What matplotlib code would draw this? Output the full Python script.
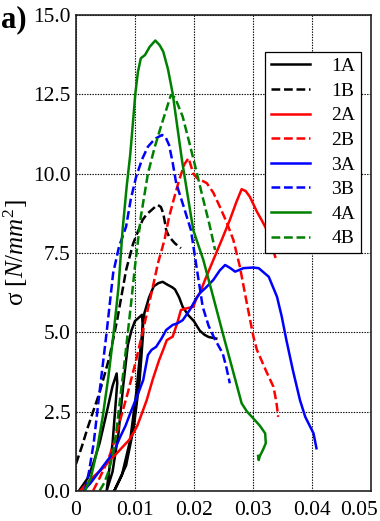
import matplotlib
matplotlib.use("Agg")
import matplotlib.pyplot as plt
from matplotlib.transforms import ScaledTranslation

plt.rcParams['font.family'] = ['Liberation Serif', 'DejaVu Serif']
plt.rcParams['mathtext.fontset'] = 'custom'
plt.rcParams['mathtext.it'] = 'Liberation Serif:italic'
plt.rcParams['mathtext.rm'] = 'Liberation Serif'

# ---- data (strain, stress N/mm^2) ----
x_1A = [0.0005, 0.002, 0.003, 0.004, 0.005, 0.0062, 0.0069, 0.0070, 0.0062, 0.0052,
        0.0062, 0.0072, 0.0080, 0.0088, 0.0094, 0.0100, 0.0106, 0.0112, 0.0114, 0.0108, 0.0098, 0.0085, 0.0065,
        0.0078, 0.0092, 0.0103, 0.0110, 0.0116, 0.0124, 0.0132, 0.0140, 0.0147, 0.0155, 0.0163, 0.0168, 0.0175,
        0.0181, 0.0190, 0.0200, 0.0210, 0.0218, 0.0225, 0.0238]
y_1A = [0.0, 0.4, 0.9, 1.5, 2.3, 3.3, 3.7, 3.4, 1.5, 0.0,
        0.6, 1.8, 3.3, 4.6, 5.05, 5.35, 5.45, 5.55, 5.0, 3.5, 2.0, 0.8, 0.0,
        0.5, 1.6, 3.2, 4.6, 5.6, 6.1, 6.45, 6.55, 6.59, 6.5, 6.42, 6.35, 6.1,
        5.8, 5.55, 5.35, 5.05, 4.92, 4.85, 4.8]

x_1B = [0.0, 0.001, 0.002, 0.003, 0.004, 0.0057, 0.0070, 0.0085, 0.0097, 0.0105, 0.0113, 0.0120, 0.0128,
        0.0134, 0.0139, 0.0144, 0.0148, 0.0151, 0.0153, 0.0158, 0.0168, 0.0178]
y_1B = [0.85, 1.4, 2.0, 2.55, 3.1, 4.23, 5.4, 6.96, 7.8, 8.17, 8.54, 8.72, 8.85,
        8.95, 9.01, 8.95, 8.75, 8.45, 8.22, 8.01, 7.8, 7.65]

x_2A = [0.0007, 0.002, 0.003, 0.0045, 0.0058, 0.007, 0.008, 0.009, 0.0097, 0.0104, 0.011, 0.012, 0.013, 0.0141,
        0.0148, 0.0154, 0.0164, 0.0172, 0.0178, 0.0187, 0.0199, 0.0205, 0.021, 0.022, 0.0233, 0.0247, 0.0261,
        0.0272, 0.0281, 0.0288, 0.0295, 0.0307, 0.0316, 0.0324, 0.0331, 0.0338]
y_2A = [0.0, 0.25, 0.45, 0.7, 0.97, 1.2, 1.4, 1.6, 1.81, 2.05, 2.35, 2.86, 3.5, 4.12,
        4.45, 4.75, 4.86, 5.3, 5.7, 5.75, 5.8, 6.1, 6.23, 6.7, 7.28, 7.9, 8.54,
        9.1, 9.51, 9.45, 9.27, 8.8, 8.5, 8.22, 7.8, 7.38]

x_2B = [0.0029, 0.004, 0.0055, 0.0065, 0.0075, 0.0088, 0.0102, 0.0119, 0.0130, 0.0139, 0.015, 0.0158, 0.0166,
        0.0175, 0.0184, 0.0191, 0.0195, 0.0199, 0.0206, 0.0214, 0.0222, 0.0233, 0.0244, 0.0256, 0.0267,
        0.0278, 0.029, 0.0301, 0.0307, 0.0312, 0.0322, 0.0335, 0.0340, 0.0343]
y_2B = [0.0, 0.4, 1.0, 1.55, 2.23, 3.1, 4.12, 5.49, 6.4, 7.17, 7.9, 8.64, 9.2,
        9.8, 10.3, 10.49, 10.25, 10.0, 9.85, 9.78, 9.7, 9.4, 8.96, 8.45, 7.91,
        7.07, 5.9, 4.86, 4.44, 4.23, 3.8, 3.28, 2.8, 2.33]

x_3A = [0.0013, 0.0025, 0.0035, 0.0047, 0.0058, 0.0067, 0.0075, 0.0084, 0.0092, 0.0104, 0.0114, 0.0122, 0.0128,
        0.0136, 0.0145, 0.0153, 0.0164, 0.0172, 0.0181, 0.0193, 0.0202, 0.021, 0.022, 0.0233, 0.0244, 0.0253,
        0.0262, 0.027, 0.0284, 0.030, 0.031, 0.0327, 0.0341, 0.0349, 0.0357, 0.0368, 0.038, 0.0389, 0.0403, 0.0408]
y_3A = [0.0, 0.25, 0.5, 0.8, 1.07, 1.35, 1.7, 2.05, 2.44, 3.0, 3.49, 4.28, 4.44,
        4.54, 4.8, 5.07, 5.23, 5.28, 5.38, 5.7, 6.0, 6.23, 6.4, 6.65, 6.95, 7.12,
        7.02, 6.91, 7.02, 7.04, 7.02, 6.75, 6.12, 5.5, 4.75, 3.8, 2.86, 2.33, 1.81, 1.34]

x_3B = [0.0015, 0.0022, 0.003, 0.0041, 0.0052, 0.0063, 0.0073, 0.0085, 0.0093, 0.0102, 0.0112, 0.0122, 0.0134,
        0.0146, 0.0152, 0.0158, 0.0164, 0.017, 0.0182, 0.0195, 0.0205, 0.0215, 0.0225, 0.0235, 0.0249, 0.0255, 0.0261]
y_3B = [0.0, 0.6, 1.5, 3.28, 5.0, 6.86, 7.7, 8.33, 9.2, 9.9, 10.45, 10.85, 11.1,
        11.22, 11.15, 10.9, 10.35, 9.7, 9.0, 8.22, 7.0, 5.8, 5.2, 4.8, 4.33, 3.9, 3.39]

x_4A = [0.0015, 0.0025, 0.0035, 0.0045, 0.0055, 0.0064, 0.0072, 0.0079, 0.0086, 0.0092, 0.0097, 0.01007,
        0.0105, 0.011, 0.0117, 0.0125, 0.01346, 0.0142, 0.0148, 0.0156, 0.0164, 0.018, 0.0199, 0.0216,
        0.0233, 0.025, 0.0266, 0.0281, 0.029, 0.0300, 0.0312, 0.0321, 0.0322, 0.0317, 0.0312, 0.031, 0.0309]
y_4A = [0.0, 0.4, 1.2, 2.3, 3.6, 5.0, 6.4, 8.22, 9.6, 10.6, 11.7, 12.53,
        13.2, 13.64, 13.74, 14.0, 14.2, 14.05, 13.85, 13.3, 12.53, 10.4, 8.22, 7.28,
        6.1, 4.9, 3.8, 2.76, 2.5, 2.3, 2.05, 1.81, 1.5, 1.28, 1.1, 0.97, 1.1]

x_4B = [0.004, 0.0048, 0.0055, 0.0062, 0.0068, 0.0076, 0.0082, 0.0088, 0.0094, 0.0100, 0.011, 0.0122,
        0.0133, 0.0144, 0.0152, 0.0161, 0.0168, 0.0181, 0.0192, 0.0204, 0.0215, 0.0226, 0.0236]
y_4B = [0.0, 0.25, 0.6, 1.1, 1.8, 3.08, 4.0, 5.0, 6.0, 7.07, 8.64, 10.0,
        10.8, 11.48, 11.95, 12.48, 12.4, 11.8, 11.0, 10.1, 9.25, 8.43, 7.59]

labels = ['1A', '1B', '2A', '2B', '3A', '3B', '4A', '4B']
xs = [x_1A, x_1B, x_2A, x_2B, x_3A, x_3B, x_4A, x_4B]
ys = [y_1A, y_1B, y_2A, y_2B, y_3A, y_3B, y_4A, y_4B]
colors = ['black', 'black', 'red', 'red', 'blue', 'blue', 'green', 'green']
dash = (0, (3.5, 1.5))
styles = ['-', dash, '-', dash, '-', dash, '-', dash]

x_ticks = [0, 0.01, 0.02, 0.03, 0.04, 0.05]
x_ticklabels = ['0', '0.01', '0.02', '0.03', '0.04', '0.05']
y_ticks = [0.0, 2.5, 5.0, 7.5, 10.0, 12.5, 15.0]
y_ticklabels = ['0.0', '2.5', '5.0', '7.5', '10.0', '12.5', '15.0']

fig = plt.figure(figsize=(3.8, 5.21), dpi=100)
ax = fig.add_axes([0.2, 0.058, 0.7755, 0.913])

for x, y, c, s, l in zip(xs, ys, colors, styles, labels):
    ax.plot(x, y, color=c, linestyle=s, linewidth=1.8, label=l)

ax.set_xlim(0, 0.05)
ax.set_ylim(0, 15)
ax.set_xticks(x_ticks)
ax.set_xticklabels(x_ticklabels)
ax.set_yticks(y_ticks)
ax.set_yticklabels(y_ticklabels)
ax.tick_params(axis='x', length=0, labelsize=15.5, pad=7)
ax.tick_params(axis='y', length=0, labelsize=15.5, pad=4)
# shift the last x label left so it fits in the figure
lbl = ax.get_xticklabels()[-1]
lbl.set_transform(lbl.get_transform() + ScaledTranslation(-12 / 100, 0, fig.dpi_scale_trans))

ax.grid(True, color='black', linestyle=(0, (1.2, 1.2)), linewidth=0.8)
for sp in ax.spines.values():
    sp.set_linewidth(1.2)
    sp.set_color('#222222')

ax.set_ylabel(r'σ [$\mathit{N/mm}^2$]', fontsize=18, labelpad=2)

leg = ax.legend(loc='upper right', bbox_to_anchor=(0.968, 0.923), fontsize=14,
                frameon=True, fancybox=False, framealpha=1, edgecolor='black',
                handlelength=2.0, handletextpad=1.1, labelspacing=0.36,
                borderpad=0.3, borderaxespad=0.0)
leg.get_frame().set_linewidth(0.9)

fig.text(0.003, 0.99, 'a)', fontsize=22, fontweight='bold', va='top', ha='left')

fig.savefig('out.png', dpi=100)
